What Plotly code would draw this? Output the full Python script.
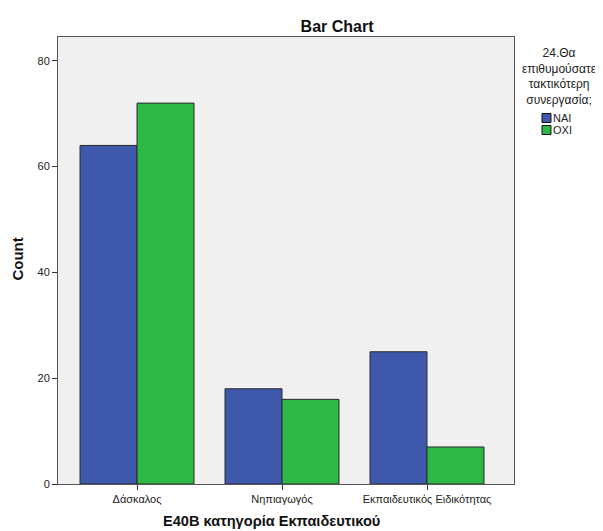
import plotly.graph_objects as go

# --------------------- Data
categories = ['Δάσκαλος', 'Νηπιαγωγός', 'Εκπαιδευτικός Ειδικότητας']
nai_counts = [64, 18, 25]
oxi_counts = [72, 16, 7]
y_ticks = [0, 20, 40, 60, 80]
series_names = ['NAI', 'OXI']
series_colors = ['#3E58AC', '#2EB848']

FONT = "Liberation Sans, Arial, sans-serif"

fig = go.Figure()

for name, vals, col in zip(series_names, [nai_counts, oxi_counts], series_colors):
    fig.add_trace(go.Bar(
        x=categories, y=vals, name=name, showlegend=False,
        marker=dict(color=col, line=dict(color='#2a2a2a', width=1))))

# Axes
fig.update_xaxes(
    range=[-0.545, 2.6], showline=True, linecolor='#555555', linewidth=1,
    mirror=True, ticks='outside', ticklen=5, tickcolor='#333333',
    tickfont=dict(size=11, color='#222222'), automargin=False,
    showgrid=False)

fig.update_yaxes(
    range=[0, 84.5], tickvals=y_ticks, showline=True, linecolor='#555555',
    linewidth=1, mirror=True, ticks='outside', ticklen=5, tickcolor='#333333',
    tickfont=dict(size=11, color='#222222'), automargin=False,
    showgrid=False, zeroline=False)

# Axis titles and legend (SPSS style, tight spacing)
shapes = []
annotations = [
    dict(text='<b>E40B κατηγορία Εκπαιδευτικού</b>', x=0.469, y=-0.083,
         xref='paper', yref='paper', xanchor='center', yanchor='middle',
         showarrow=False, font=dict(size=14.6, color='#111111')),
    dict(text='<b>Count</b>', x=-0.089, y=0.503, textangle=-90,
         xref='paper', yref='paper', xanchor='center', yanchor='middle',
         showarrow=False, font=dict(size=15, color='#111111')),
    dict(text='24.Θα<br>επιθυμούσατε<br>τακτικότερη<br>συνεργασία;',
         x=1.0987, y=0.985, xref='paper', yref='paper', xanchor='center',
         yanchor='top', showarrow=False, align='center',
         font=dict(size=12, color='#222222')),
]
for i, (name, col) in enumerate(zip(series_names, series_colors)):
    yc = 0.8188 - i * 0.0268
    shapes.append(dict(
        type='rect', xref='paper', yref='paper',
        x0=1.0614, x1=1.0811, y0=yc - 0.0101, y1=yc + 0.0101,
        fillcolor=col, line=dict(color='#111111', width=1)))
    annotations.append(dict(
        text=name, x=1.0815, y=yc, xref='paper', yref='paper',
        xanchor='left', yanchor='middle', showarrow=False,
        font=dict(size=11, color='#222222')))

fig.update_layout(
    width=595, height=523,
    margin=dict(l=50, r=89, t=29, b=47),
    barmode='group', bargap=0.214, bargroupgap=0,
    plot_bgcolor='#F0F0F0', paper_bgcolor='white',
    font=dict(family=FONT, size=11, color='#222222'),
    title=dict(text='<b>Bar Chart</b>', x=0.553, xanchor='center',
               y=0.9656, yanchor='middle', font=dict(size=16, color='#111111')),
    shapes=shapes,
    annotations=annotations,
)

fig.write_html("out.html")
